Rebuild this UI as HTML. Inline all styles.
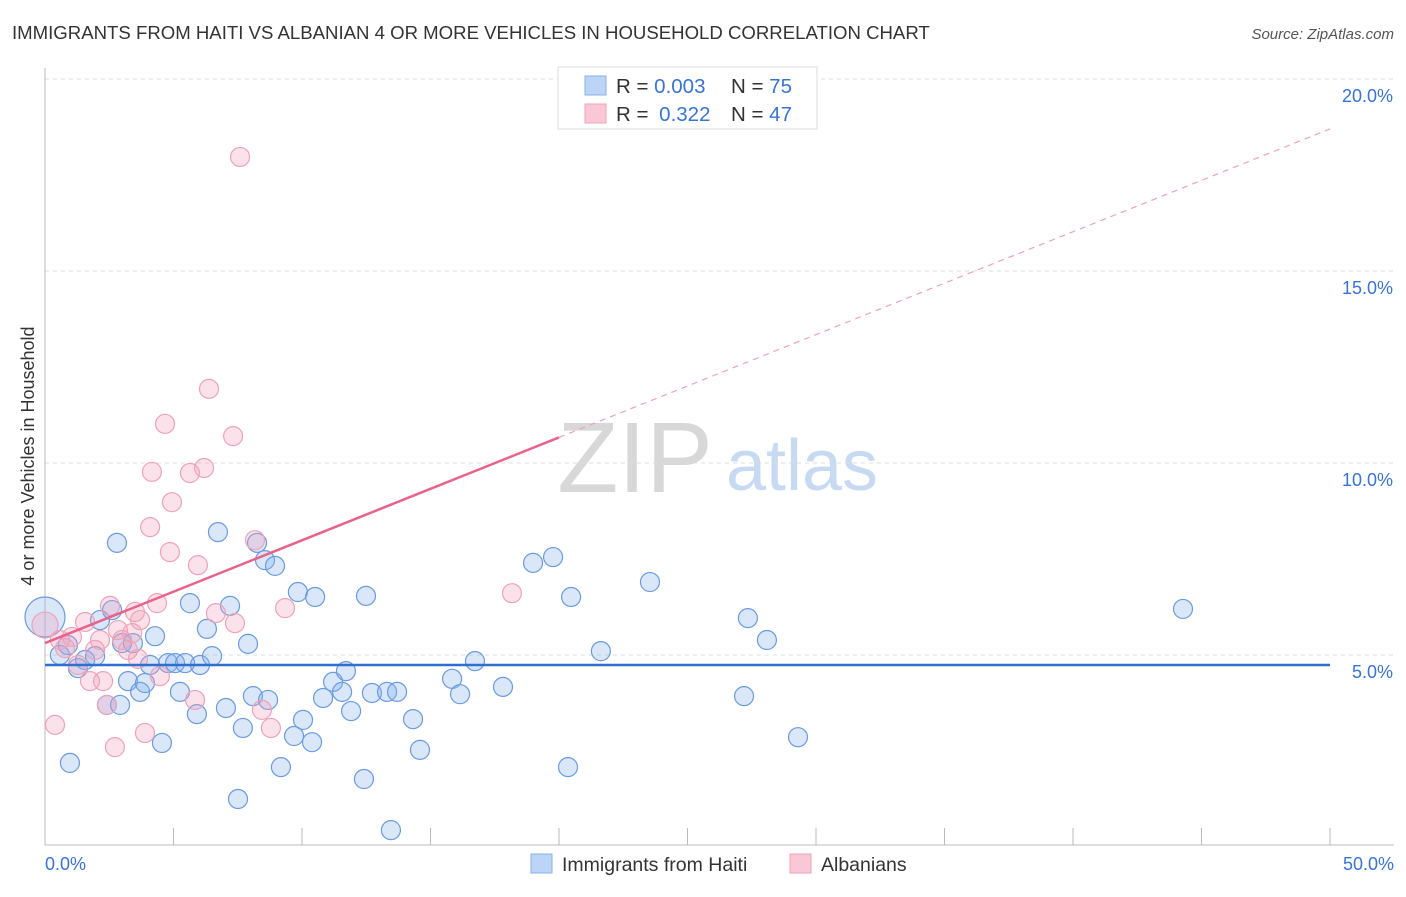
<!DOCTYPE html>
<html><head><meta charset="utf-8"><style>
body{margin:0;background:#fff;font-family:"Liberation Sans",sans-serif}
svg text{font-family:"Liberation Sans",sans-serif}
</style></head><body>
<svg id="c" width="1406" height="892">
<text x="12" y="39" font-size="18.6" fill="#333">IMMIGRANTS FROM HAITI VS ALBANIAN 4 OR MORE VEHICLES IN HOUSEHOLD CORRELATION CHART</text>
<text x="1394" y="39" font-size="15" fill="#555" font-style="italic" text-anchor="end">Source: ZipAtlas.com</text>
<text transform="translate(34,456) rotate(-90)" font-size="18" fill="#333" text-anchor="middle">4 or more Vehicles in Household</text>
<g>
<text x="635" y="492" font-size="100" fill="#d8d8d8" font-family="Liberation Serif,serif" text-anchor="middle">ZIP</text>
<text x="802" y="490" font-size="72" fill="#c8daf2" text-anchor="middle">atlas</text>
</g>
<g id="grid"></g><g id="axes"></g><g id="pts"></g><g id="lines"></g>
<g>
<rect x="558" y="67" width="259" height="62" fill="#fff" stroke="#ddd"/>
<rect x="585" y="76" width="21" height="19" fill="#bcd4f5" stroke="#8ab0e6"/>
<rect x="585" y="104" width="21" height="19" fill="#f9c7d5" stroke="#eea3b8"/>
<text x="616" y="93" font-size="20.5" fill="#333">R = <tspan fill="#3a74d0">0.003</tspan><tspan x="731">N = </tspan><tspan fill="#3a74d0">75</tspan></text>
<text x="616" y="121" font-size="20.5" fill="#333">R = <tspan fill="#3a74d0" dx="5">0.322</tspan><tspan x="731">N = </tspan><tspan fill="#3a74d0">47</tspan></text>
</g>
<g>
<rect x="531" y="854" width="21" height="19" fill="#bcd4f5" stroke="#8ab0e6"/>
<text x="562" y="871" font-size="19.5" fill="#333">Immigrants from Haiti</text>
<rect x="790" y="854" width="21" height="19" fill="#f9c7d5" stroke="#eea3b8"/>
<text x="821" y="871" font-size="19.5" fill="#333">Albanians</text>
</g>
</svg>
<script>
const xTicks=[0,50];
const yTicks=[5,10,15,20];
const haitiX=[0,0.58,0.89,1.28,1.56,1.95,2.14,2.41,2.61,2.8,3,3.23,3.42,3.7,3.89,4.09,4.28,4.55,4.79,5.06,5.25,5.45,5.64,5.91,6.03,6.3,6.5,6.73,7.04,7.2,7.51,7.7,7.9,8.09,8.25,8.56,8.68,8.95,9.18,9.69,9.84,10.04,10.39,10.51,10.82,11.21,11.56,11.71,11.91,12.41,12.49,12.72,13.31,13.46,13.7,14.32,14.59,15.84,16.15,16.73,17.82,18.99,19.77,20.35,20.47,21.63,23.54,27.2,27.35,28.09,29.3,44.28,0.97,2.92];
const haitiY=[5.99,5.0,5.26,4.66,4.87,4.97,5.91,3.7,6.17,7.92,5.31,4.32,5.31,4.04,4.27,4.74,5.49,2.71,4.79,4.79,4.04,4.79,6.35,3.46,4.74,5.68,4.97,8.2,3.62,6.28,1.25,3.1,5.29,3.93,7.92,7.47,3.83,7.32,2.08,2.89,6.64,3.31,2.73,6.51,3.88,4.3,4.04,4.58,3.54,1.77,6.54,4.01,4.04,0.44,4.04,3.33,2.53,4.38,3.98,4.84,4.17,7.4,7.55,2.08,6.51,5.1,6.9,3.93,5.96,5.39,2.86,6.2,2.19,3.7];
const albX=[0,0.39,0.58,0.78,1.05,1.28,1.56,1.75,1.95,2.14,2.26,2.53,2.72,2.84,3,3.23,3.39,3.5,3.7,3.62,3.89,4.09,4.16,4.36,4.47,4.67,4.86,4.94,5.64,5.84,5.95,6.19,6.38,6.65,7.32,7.39,7.59,8.17,8.44,8.79,9.34,18.17,2.41];
const albY=[5.78,3.18,5.39,5.18,5.47,4.74,5.86,4.32,5.13,5.39,4.32,6.28,2.6,5.65,5.39,5.13,5.57,6.12,5.91,4.9,2.97,8.33,9.77,6.35,4.45,11.02,7.68,8.98,9.74,3.83,7.34,9.87,11.93,6.09,10.7,5.83,17.97,7.99,3.57,3.1,6.22,6.61,3.7];
const haitiTrend=[4.74,4.74];
const albTrend=[5.31,18.7];
const albSolidEnd=20;
const X=v=>45+v*25.7, Y=v=>847-v*38.4;
const NS="http://www.w3.org/2000/svg";
function mk(parent,tag,attrs){const e=document.createElementNS(NS,tag);for(const k in attrs)e.setAttribute(k,attrs[k]);document.getElementById(parent).appendChild(e);return e;}
for(const t of yTicks){
 const g=mk('grid','line',{x1:45,x2:1394,y1:Y(t),y2:Y(t),stroke:'#ddd','stroke-dasharray':'4,4'});
 
 
 const tx=mk('grid','text',{x:1393,y:Y(t)+23,'font-size':18,fill:'#3a74d0','text-anchor':'end'});tx.textContent=t.toFixed(1)+'%';
 
 
}
const ax=mk('axes','line',{x1:45,x2:45,y1:68,y2:845,stroke:'#bbb'});


const bx=mk('axes','line',{x1:45,x2:1394,y1:845,y2:845,stroke:'#bbb'});


for(let i=0;i<=10;i++){const v=i*5;const t=mk('axes','line',{x1:X(v),x2:X(v),y1:828,y2:845,stroke:'#bbb'});
 
 }
xTicks.forEach((t,i)=>{const tx=mk('axes','text',{x:i?1394:45,y:870,'font-size':18,fill:'#3a74d0','text-anchor':i?'end':'start'});tx.textContent=t.toFixed(1)+'%';
 
 });
function pts(xs,ys,fill,stroke,name,bigR){xs.forEach((x,i)=>{const c=mk('pts','circle',{cx:X(x),cy:Y(ys[i]),r:i===0?bigR:9.5,fill:fill,stroke:stroke,'stroke-width':1.2});
 
 });}
pts(haitiX,haitiY,'rgba(130,175,235,0.3)','#6a9be0','haiti-point',20);
pts(albX,albY,'rgba(242,160,185,0.3)','#eea3b8','albanian-point',13);
const hl=mk('lines','line',{x1:X(0),x2:X(50),y1:Y(haitiTrend[0]),y2:Y(haitiTrend[1]),stroke:'#2e6fcf','stroke-width':2.5});


const yAt=x=>albTrend[0]+(albTrend[1]-albTrend[0])*x/50;
const pl=mk('lines','line',{x1:X(0),x2:X(albSolidEnd),y1:Y(albTrend[0]),y2:Y(yAt(albSolidEnd)),stroke:'#e8638c','stroke-width':2.5});


const pd=mk('lines','line',{x1:X(albSolidEnd),x2:X(50),y1:Y(yAt(albSolidEnd)),y2:Y(albTrend[1]),stroke:'#eea3b8','stroke-width':1.2,'stroke-dasharray':'6,5'});


</script>
</body></html>
